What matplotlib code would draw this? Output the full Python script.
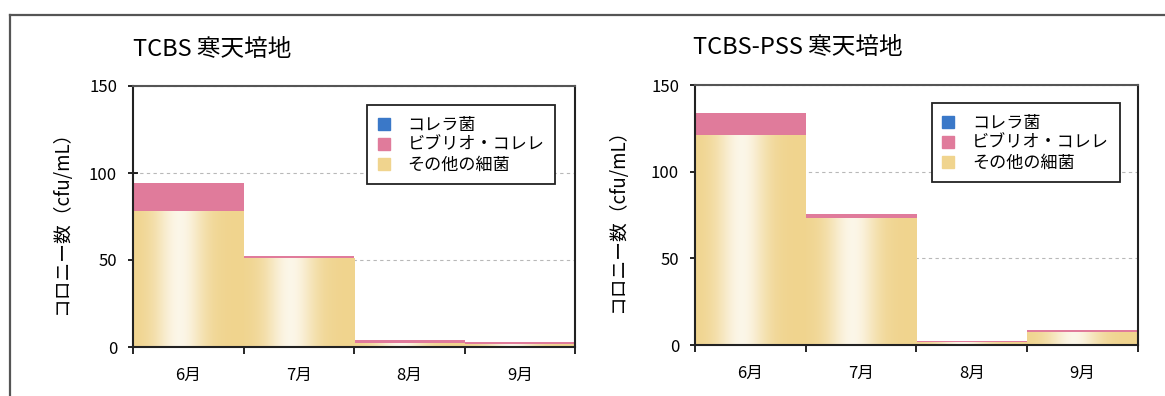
import numpy as np
import matplotlib
matplotlib.use("Agg")
import matplotlib.pyplot as plt
from matplotlib.lines import Line2D
from matplotlib.colors import to_rgb

plt.rcParams['font.family'] = ['Noto Sans CJK JP', 'DejaVu Sans']

months = ["6月", "7月", "8月", "9月"]
series_names = ["コレラ菌", "ビブリオ・コレレ", "その他の細菌"]
titles = ["TCBS 寒天培地", "TCBS-PSS 寒天培地"]
ylabel = "コロニー数（cfu/mL）"

# left chart: TCBS
tcbs_cholera = [0, 0, 0, 0]
tcbs_vibrio = [16, 1.5, 1.5, 1]
tcbs_other = [78, 51, 2.5, 2]
# right chart: TCBS-PSS
pss_cholera = [0, 0, 0, 0]
pss_vibrio = [13, 2, 1, 1]
pss_other = [121, 73.5, 1.5, 7.5]

yticks = [0, 50, 100, 150]

c_blue = "#3a78c8"
c_pink = "#e07b9b"
c_yellow = "#f0d48e"

fig = plt.figure(figsize=(11.65, 3.96), dpi=100)

# scanned outer frame
fig.add_artist(Line2D([10/1165, 10/1165], [0, 1-15/396], transform=fig.transFigure,
                      color="#555555", lw=1.6))
fig.add_artist(Line2D([10/1165, 1.0], [1-15/396, 1-15/396], transform=fig.transFigure,
                      color="#555555", lw=1.6))

def gradient_img():
    t = np.linspace(0, 1, 200)
    w = 0.8*np.exp(-((t-0.42)/0.22)**2)
    y = np.array(to_rgb(c_yellow))
    rows = (1-w)[:, None]*y[None, :] + w[:, None]*np.array([1, 1, 1])[None, :]
    return rows[None, :, :]

def draw(ax, other, vibrio, cholera, leg_anchor, ylab_x, ylab_y):
    x = np.arange(len(months))
    ax.set_axisbelow(True)
    b1 = ax.bar(x, other, width=1.0, color=c_yellow, linewidth=0, zorder=2)
    bottom2 = np.array(other)
    ax.bar(x, vibrio, width=1.0, bottom=bottom2, color=c_pink, linewidth=0, zorder=2)
    bottom3 = bottom2 + np.array(vibrio)
    ax.bar(x, cholera, width=1.0, bottom=bottom3, color=c_blue, linewidth=0, zorder=2)
    img = gradient_img()
    for p in b1:
        x0, w, h = p.get_x(), p.get_width(), p.get_height()
        if h <= 0:
            continue
        im = ax.imshow(img, extent=(x0, x0+w, 0, h), aspect='auto', zorder=2.5,
                       interpolation='bilinear')
        im.set_clip_path(p)
    ax.set_xlim(-0.5, len(months)-0.5)
    ax.set_ylim(0, 150)
    ax.set_yticks(yticks)
    ax.set_yticklabels([str(v) for v in yticks], fontsize=12)
    ax.yaxis.grid(True, color="#b8b8b8", linestyle=(0, (3, 3)), linewidth=0.8, zorder=0)
    ax.set_xticks(np.arange(len(months)+1)-0.5)
    ax.set_xticklabels([])
    ax.set_xticks(x, minor=True)
    ax.set_xticklabels(months, minor=True, fontsize=12)
    ax.tick_params(axis='x', which='major', direction='out', length=5, width=1.2)
    ax.tick_params(axis='x', which='minor', length=0, pad=14)
    ax.tick_params(axis='y', direction='inout', length=7, width=1.2, pad=8)
    for s in ax.spines.values():
        s.set_linewidth(1.5)
        s.set_color("#222222")
    ax.spines['top'].set_color("#555555")
    ax.set_ylabel(ylabel, fontsize=13.5)
    ax.yaxis.set_label_coords(ylab_x, ylab_y)
    handles = [plt.Rectangle((0, 0), 1, 1, color=c) for c in (c_blue, c_pink, c_yellow)]
    leg = ax.legend(handles, series_names, loc='upper right', bbox_to_anchor=leg_anchor,
                    borderaxespad=0, fancybox=False, edgecolor="#222222", framealpha=1,
                    fontsize=12.3, handlelength=0.7, handleheight=0.7,
                    handletextpad=1.05, labelspacing=0.12, borderpad=0.62)
    leg.get_frame().set_linewidth(1.3)
    leg.set_zorder(5)
    return ax

ax1 = fig.add_axes([133/1165, 1-347/396, 442/1165, 261/396])
draw(ax1, tcbs_other, tcbs_vibrio, tcbs_cholera, (0.955, 0.927), -0.138, 0.494)
fig.text(133/1165, 1-50/396, titles[0], fontsize=17, va='center', ha='left')

ax2 = fig.add_axes([695/1165, 1-345/396, 443/1165, 260/396])
draw(ax2, pss_other, pss_vibrio, pss_cholera, (0.959, 0.931), -0.151, 0.496)
fig.text(693/1165, 1-48/396, titles[1], fontsize=17, va='center', ha='left')

fig.savefig("out.png", dpi=100)
